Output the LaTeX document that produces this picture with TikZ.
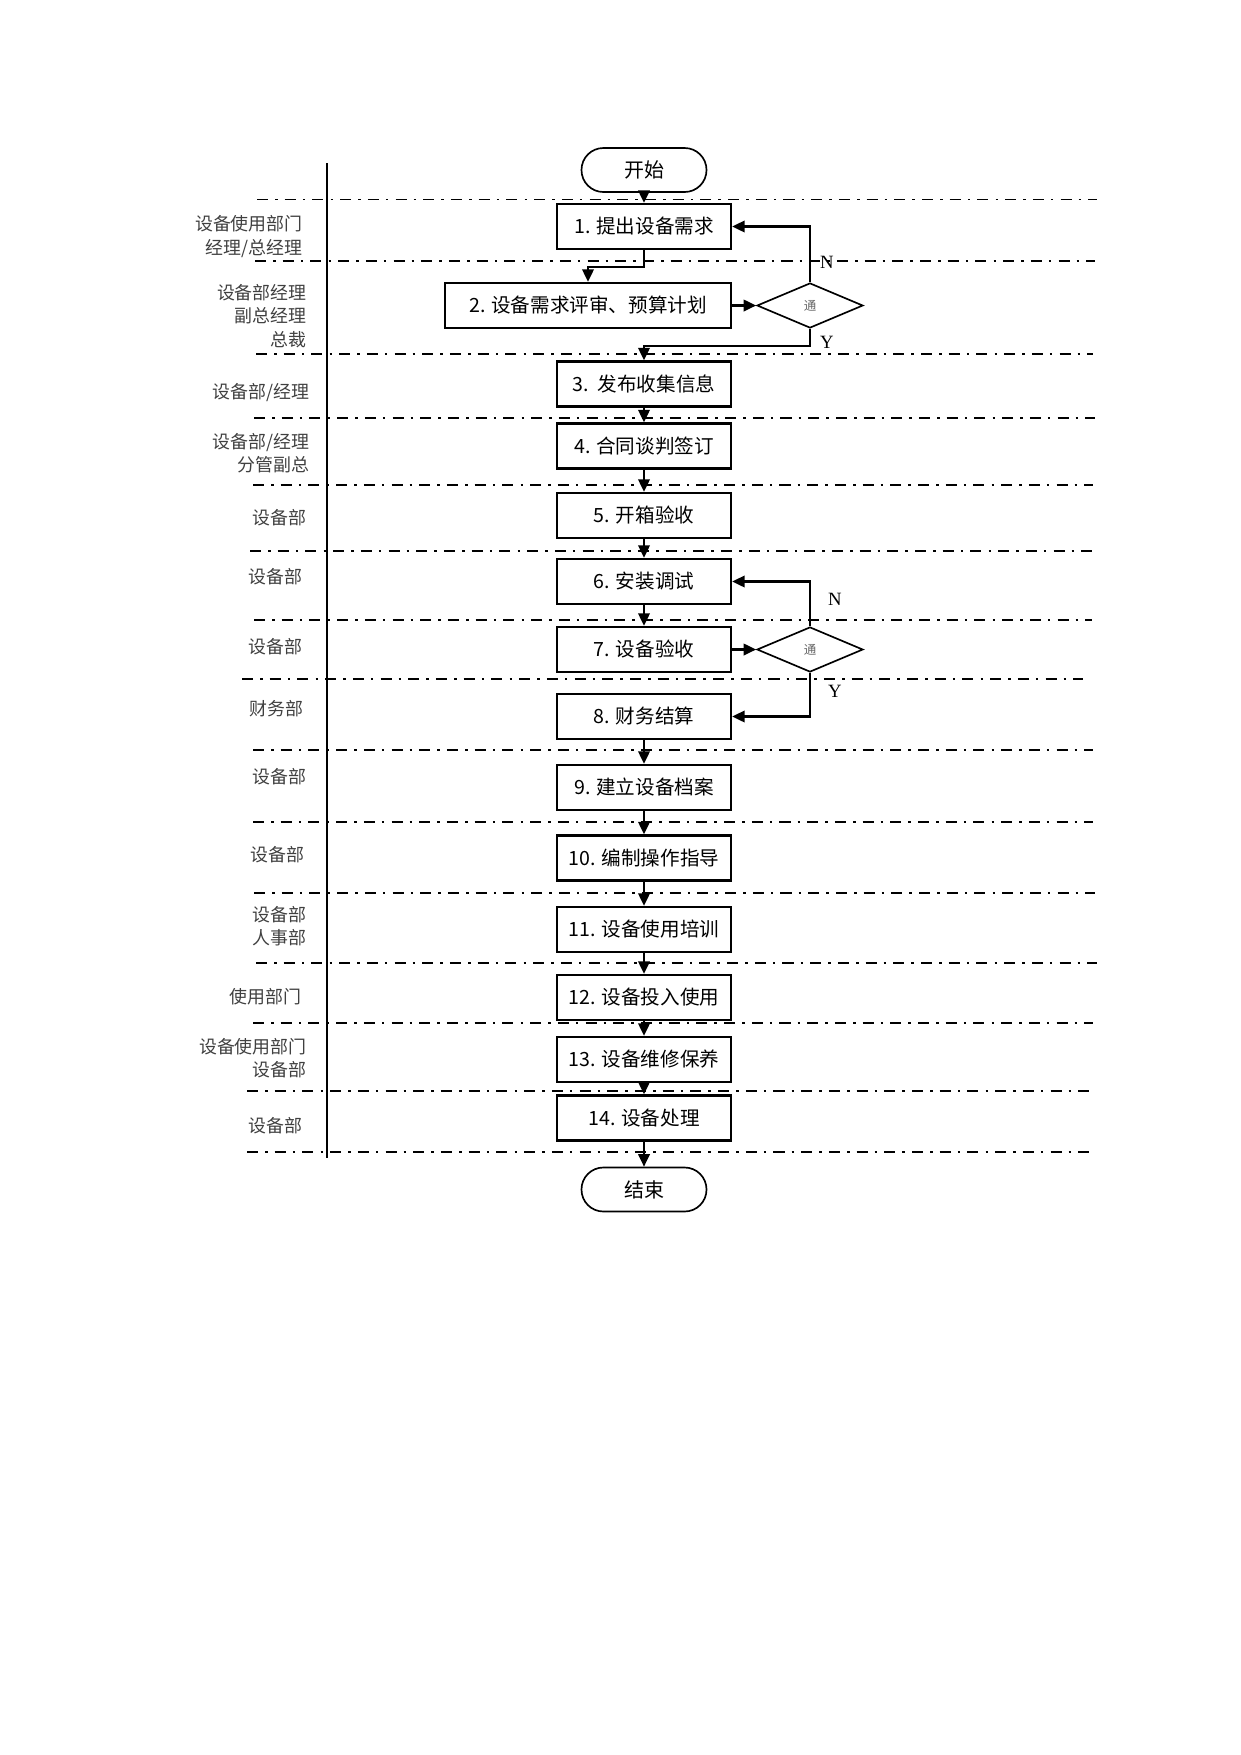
\documentclass[tikz,border=0pt]{standalone}
\usepackage{fontspec}
\setmainfont{Liberation Serif}
\newfontfamily\cjk{Noto Sans CJK SC}
\usetikzlibrary{arrows.meta,shapes.geometric,positioning}
\newcommand{\pxu}{0.48pt}
\tikzset{
    boxsty/.style={draw,line width=1.1pt,rectangle,minimum width=174*\pxu,minimum height=45*\pxu,inner sep=0pt,font=\cjk\fontsize{9.4}{11}\selectfont},
    termsty/.style={draw,line width=0.8pt,rectangle,rounded corners=10.5pt,minimum width=125*\pxu,minimum height=44*\pxu,inner sep=0pt,font=\cjk\fontsize{9.6}{11}\selectfont},
    decsty/.style={draw,line width=0.8pt,diamond,minimum width=106*\pxu,minimum height=45*\pxu,inner sep=0pt,font=\cjk\fontsize{6}{7}\selectfont,text=black!60},
    labsty/.style={anchor=east,align=right,inner sep=0pt,font=\cjk\fontsize{8.6}{11.3}\selectfont,text=black!75},
    ynsty/.style={inner sep=0pt,font=\fontsize{9}{10}\selectfont},
    sepsty/.style={line width=0.6pt,dash pattern=on 5.3pt off 3.4pt on 1.2pt off 3.4pt},
    flowsty/.style={->,line width=1pt},
}

\begin{document}
\begin{tikzpicture}[x=\pxu,y=-\pxu,>={Triangle[length=6pt,width=5.5pt]}]
  \useasboundingbox (0,0) rectangle (1241,1755);

  % lanes
  \draw[line width=0.6pt] (327,163) -- (327,1158);
  \draw[sepsty] (257,199.5) -- (1097,199.5);
  \draw[sepsty,line width=1.2pt] (255,261) -- (1095,261);
  \draw[sepsty] (256,354) -- (1093,354);
  \draw[sepsty] (254,418) -- (1095,418);
  \draw[sepsty] (253,485) -- (1093,485);
  \draw[sepsty] (250,551) -- (1092,551);
  \draw[sepsty] (254,620) -- (1092,620);
  \draw[sepsty] (242,679) -- (1083,679);
  \draw[sepsty] (253,750) -- (1093,750);
  \draw[sepsty] (253,822) -- (1093,822);
  \draw[sepsty] (254,893) -- (1095,893);
  \draw[sepsty] (256,963) -- (1097,963);
  \draw[sepsty] (253,1023) -- (1093,1023);
  \draw[sepsty] (247,1091) -- (1089,1091);
  \draw[sepsty] (247,1152) -- (1089,1152);

  % departments
  \node[labsty] (l1) at (303,236.5) {设备使用部门\\经理/总经理};
  \node[labsty] (l2) at (307,316) {设备部经理\\副总经理\\总裁};
  \node[labsty] (l3) at (310,393) {设备部/经理};
  \node[labsty] (l4) at (310,453) {设备部/经理\\分管副总};
  \node[labsty] (l5) at (307,518) {设备部};
  \node[labsty] (l6) at (303,577) {设备部};
  \node[labsty] (l7) at (303,647) {设备部};
  \node[labsty] (l8) at (304,709) {财务部};
  \node[labsty] (l9) at (307,777) {设备部};
  \node[labsty] (l10) at (305,855) {设备部};
  \node[labsty] (l11) at (307,926) {设备部\\人事部};
  \node[labsty] (l12) at (302,997) {使用部门};
  \node[labsty] (l13) at (307,1058) {设备使用部门\\设备部};
  \node[labsty] (l14) at (303,1126) {设备部};

  % steps
  \node[termsty] (st) at (644,170) {开始};
  \node[boxsty] (b1) at (644,226.5) {1. 提出设备需求};
  \node[boxsty,minimum width=286*\pxu] (b2) at (588,305.5) {2. 设备需求评审、预算计划};
  \node[decsty] (d1) at (810,305.5) {通};
  \node[boxsty] (b3) at (644,384) {3.\ \ 发布收集信息};
  \node[boxsty] (b4) at (644,446) {4. 合同谈判签订};
  \node[boxsty] (b5) at (644,515.5) {5. 开箱验收};
  \node[boxsty] (b6) at (644,581.5) {6. 安装调试};
  \node[boxsty] (b7) at (644,649.5) {7. 设备验收};
  \node[decsty] (d2) at (810,649.5) {通};
  \node[boxsty] (b8) at (644,716.5) {8. 财务结算};
  \node[boxsty] (b9) at (644,787.5) {9. 建立设备档案};
  \node[boxsty] (b10) at (644,858) {10. 编制操作指导};
  \node[boxsty] (b11) at (644,929.5) {11. 设备使用培训};
  \node[boxsty] (b12) at (644,997.5) {12. 设备投入使用};
  \node[boxsty] (b13) at (644,1059.5) {13. 设备维修保养};
  \node[boxsty] (b14) at (644,1118) {14. 设备处理};
  \node[termsty] (ed) at (644,1189.5) {结束};

  \node[ynsty] (n1) at (827,262) {N};
  \node[ynsty] (y1) at (827,342) {Y};
  \node[ynsty] (n2) at (835,599) {N};
  \node[ynsty] (y2) at (835,691) {Y};

  % flow
  \draw[flowsty] (st) -- (b1);
  \draw[flowsty] (b1.south) -- ++(0,17) -| (b2.north);
  \draw[flowsty] (b2) -- (d1);
  \draw[flowsty] (d1.north) |- (b1.east);
  \draw[flowsty] (d1.south) -- ++(0,17) -| (b3.north);
  \draw[flowsty] (b3) -- (b4);
  \draw[flowsty] (b4) -- (b5);
  \draw[flowsty] (b5) -- (b6);
  \draw[flowsty] (b6) -- (b7);
  \draw[flowsty] (b7) -- (d2);
  \draw[flowsty] (d2.north) |- (b6.east);
  \draw[flowsty] (d2.south) |- (b8.east);
  \draw[flowsty] (b8) -- (b9);
  \draw[flowsty] (b9) -- (b10);
  \draw[flowsty] (b10) -- (b11);
  \draw[flowsty] (b11) -- (b12);
  \draw[flowsty] (b12) -- (b13);
  \draw[flowsty] (b13) -- (b14);
  \draw[flowsty] (b14) -- (ed);
\end{tikzpicture}
\end{document}
